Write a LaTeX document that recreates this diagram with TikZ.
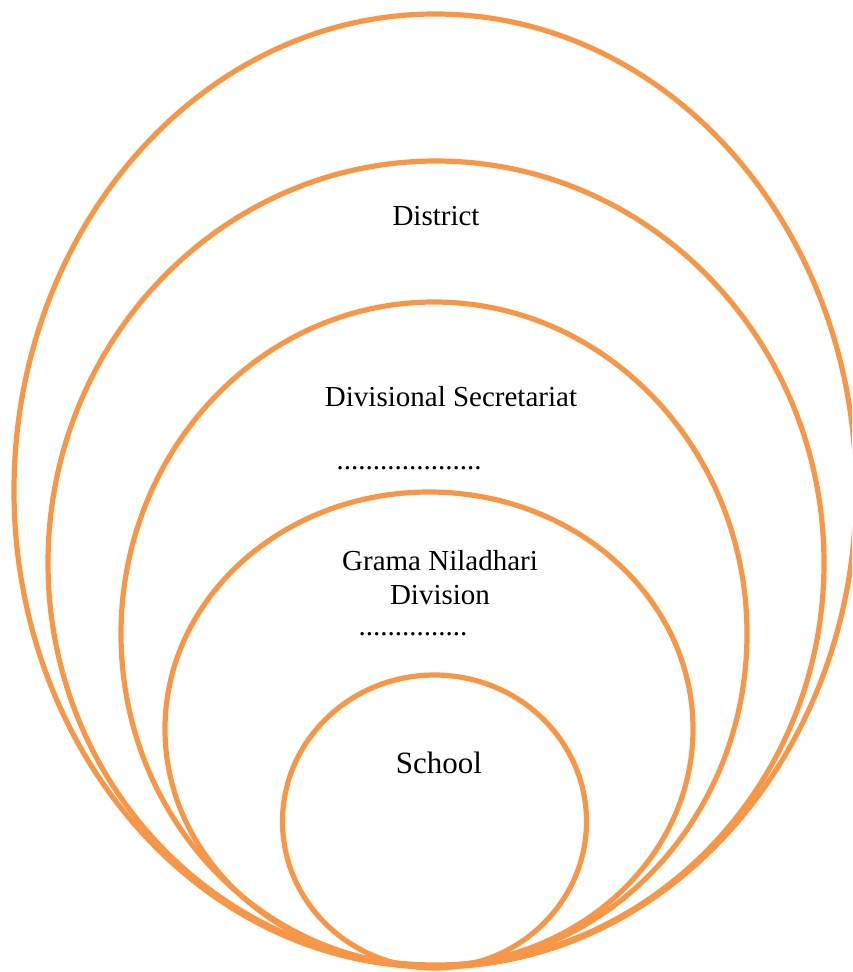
\documentclass[tikz,border=0pt]{standalone}
\usepackage{fontspec}
\setmainfont{Liberation Serif}
\definecolor{ringorange}{HTML}{F79646}
\begin{document}
\begin{tikzpicture}[x=1pt,y=-1pt,
  ring/.style={draw=ringorange, line width=5.2pt},
  lbl/.style={inner sep=0pt, align=center, font=\fontsize{29}{34}\selectfont},
  dots/.style={inner sep=0pt, font=\fontsize{29}{34}\selectfont}]
\useasboundingbox (0,0) rectangle (852,972);
\clip (0,0) rectangle (852,972);
\draw[ring] (435,490.5) ellipse [x radius=421, y radius=476.5];
\draw[ring] (436,563) ellipse [x radius=388, y radius=402];
\draw[ring] (434,634) ellipse [x radius=313, y radius=332];
\draw[ring] (429,729) ellipse [x radius=264, y radius=237];
\draw[ring] (434.5,821.5) ellipse [x radius=152, y radius=146.5];
\node[lbl] (district) at (436,216) {District};
\node[lbl] (divsec) at (451,397) {Divisional Secretariat};
\node[dots, anchor=base] (dots1) at (409,469) {....................};
\node[lbl] (grama) at (440,578) {Grama Niladhari\\Division};
\node[dots, anchor=base] (dots2) at (413,635) {...............};
\node[lbl, font=\fontsize{31}{36}\selectfont] (school) at (439,763) {School};
\end{tikzpicture}
\end{document}
